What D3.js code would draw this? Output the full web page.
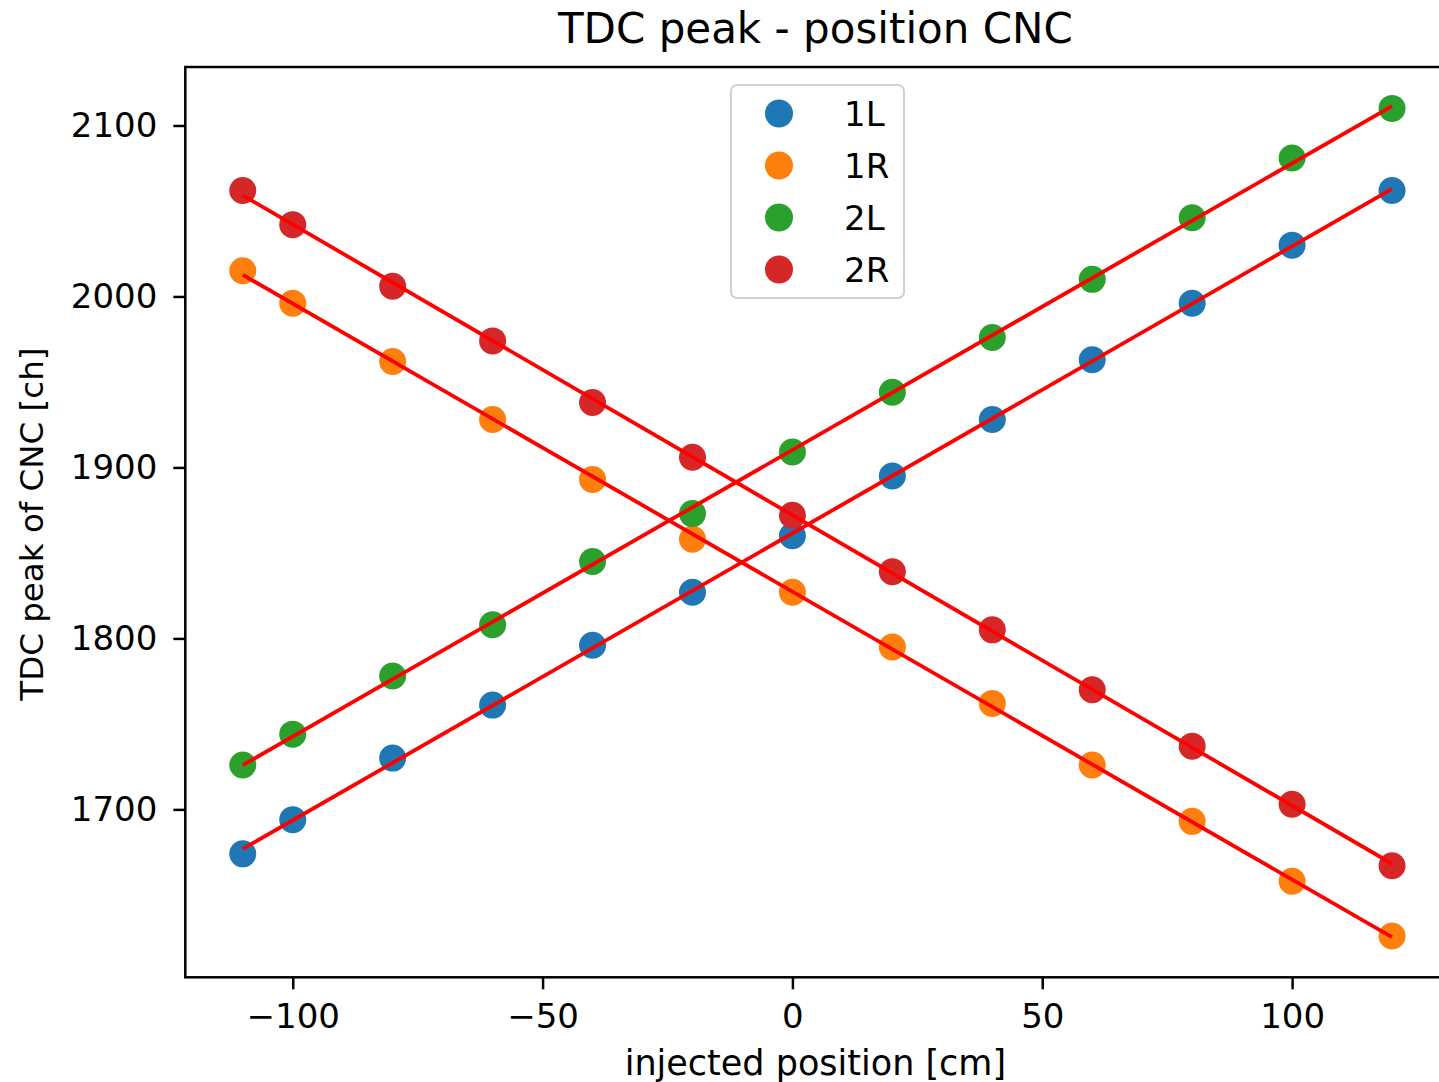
<!DOCTYPE html>
<html>
<head>
<meta charset="utf-8">
<script src="https://cdn.jsdelivr.net/npm/d3@7"></script>
<style>
  body { margin: 0; background: #fff; }
  svg { display: block; font-family: "DejaVu Sans", sans-serif; }
</style>
</head>
<body>
<div id="chart"></div>
<script>
// injected positions [cm]
var positions = [-110, -100, -80, -60, -40, -20, 0, 20, 40, 60, 80, 100, 120];

// TDC peak of CNC [ch]
var peak1L = [1674, 1694, 1730, 1761, 1796, 1827, 1860, 1895, 1928, 1963, 1996, 2030, 2062];
var peak1R = [2015, 1996, 1962, 1928, 1893, 1858, 1827, 1795, 1762, 1726, 1693, 1658, 1626];
var peak2L = [1726, 1744, 1778, 1808, 1845, 1873, 1909, 1944, 1976, 2010, 2046, 2081, 2110];
var peak2R = [2062, 2042, 2006, 1974, 1938, 1906, 1872, 1839, 1805, 1770, 1737, 1703, 1667];

var seriesNames = ["1L", "1R", "2L", "2R"];
var seriesColors = ["#1f77b4", "#ff7f0e", "#2ca02c", "#d62728"];
var xTicks = [-100, -50, 0, 50, 100];
var yTicks = [1700, 1800, 1900, 2000, 2100];

var width = 1439, height = 1082;
var margin = {left: 185.3, top: 67, right: 1449.5, bottom: 977.3};

var series = [peak1L, peak1R, peak2L, peak2R].map(function(vals, i){
    return {name: seriesNames[i], color: seriesColors[i],
            pts: vals.map(function(v, j){ return {x: positions[j], y: v}; })};
});

// least squares fit, same as the red lines in the original
function fit(pts){
    var n = pts.length, sx = 0, sy = 0, sxx = 0, sxy = 0;
    pts.forEach(function(p){ sx += p.x; sy += p.y; sxx += p.x*p.x; sxy += p.x*p.y; });
    var m = (n*sxy - sx*sy) / (n*sxx - sx*sx);
    var b = (sy - m*sx) / n;
    return function(x){ return m*x + b; };
}

var xMin = d3.min(positions), xMax = d3.max(positions);
var allY = d3.merge([peak1L, peak1R, peak2L, peak2R]);
var yMin = d3.min(allY), yMax = d3.max(allY);
var xPad = (xMax - xMin) * 0.05, yPad = (yMax - yMin) * 0.05;

var x = d3.scaleLinear().domain([xMin - xPad, xMax + xPad]).range([margin.left, margin.right]);
var y = d3.scaleLinear().domain([yMin - yPad, yMax + yPad]).range([margin.bottom, margin.top]);

var svg = d3.select("#chart").append("svg")
    .attr("width", width).attr("height", height);

var plot = svg.append("g");

// points
series.forEach(function(s){
    plot.append("g").selectAll("circle")
        .data(s.pts).enter().append("circle")
        .attr("cx", function(d){ return x(d.x); })
        .attr("cy", function(d){ return y(d.y); })
        .attr("r", 13.5)
        .attr("fill", s.color);
});

// fit lines
series.forEach(function(s){
    var f = fit(s.pts);
    plot.append("line")
        .attr("x1", x(xMin)).attr("y1", y(f(xMin)))
        .attr("x2", x(xMax)).attr("y2", y(f(xMax)))
        .attr("stroke", "#ff0000")
        .attr("stroke-width", 3.8);
});

// axes
var xAxis = d3.axisBottom(x).tickValues(xTicks).tickSize(12).tickSizeOuter(0).tickPadding(15);
var yAxis = d3.axisLeft(y).tickValues(yTicks).tickSize(12).tickSizeOuter(0).tickPadding(16)
    .tickFormat(d3.format("d"));

var gx = svg.append("g").attr("transform", "translate(0," + margin.bottom + ")").call(xAxis);
var gy = svg.append("g").attr("transform", "translate(" + margin.left + ",0)").call(yAxis);
[gx, gy].forEach(function(g){
    g.select(".domain").remove();
    g.selectAll("line").attr("stroke", "#000").attr("stroke-width", 2.5);
    g.selectAll("text").attr("fill", "#000").style("font-size", "34px")
        .style("font-family", "'DejaVu Sans', sans-serif");
});

// spines
svg.append("rect")
    .attr("x", margin.left).attr("y", margin.top)
    .attr("width", margin.right - margin.left).attr("height", margin.bottom - margin.top)
    .attr("fill", "none").attr("stroke", "#000").attr("stroke-width", 2.5);

// title and labels
svg.append("text")
    .attr("x", (margin.left + margin.right) / 2 - 2).attr("y", 43)
    .attr("text-anchor", "middle").style("font-size", "42px")
    .text("TDC peak - position CNC");

svg.append("text")
    .attr("x", (margin.left + margin.right) / 2 - 2).attr("y", 1075)
    .attr("text-anchor", "middle").style("font-size", "35px")
    .text("injected position [cm]");

svg.append("text")
    .attr("transform", "translate(43," + ((margin.top + margin.bottom) / 2 + 2) + ") rotate(-90)")
    .attr("text-anchor", "middle").style("font-size", "32.5px")
    .text("TDC peak of CNC [ch]");

// legend
var legend = svg.append("g").attr("transform", "translate(731,85)");
legend.append("rect")
    .attr("width", 173).attr("height", 213).attr("rx", 6)
    .attr("fill", "#fff").attr("fill-opacity", 0.8)
    .attr("stroke", "#d0d0d0").attr("stroke-width", 2);
var items = legend.selectAll("g.item").data(series).enter().append("g")
    .attr("class", "item")
    .attr("transform", function(d, i){ return "translate(0," + (28.5 + i * 52) + ")"; });
items.append("circle").attr("cx", 48).attr("cy", 0).attr("r", 14)
    .attr("fill", function(d){ return d.color; });
items.append("text").attr("x", 113).attr("y", 12)
    .style("font-size", "34px")
    .text(function(d){ return d.name; });
</script>
</body>
</html>
